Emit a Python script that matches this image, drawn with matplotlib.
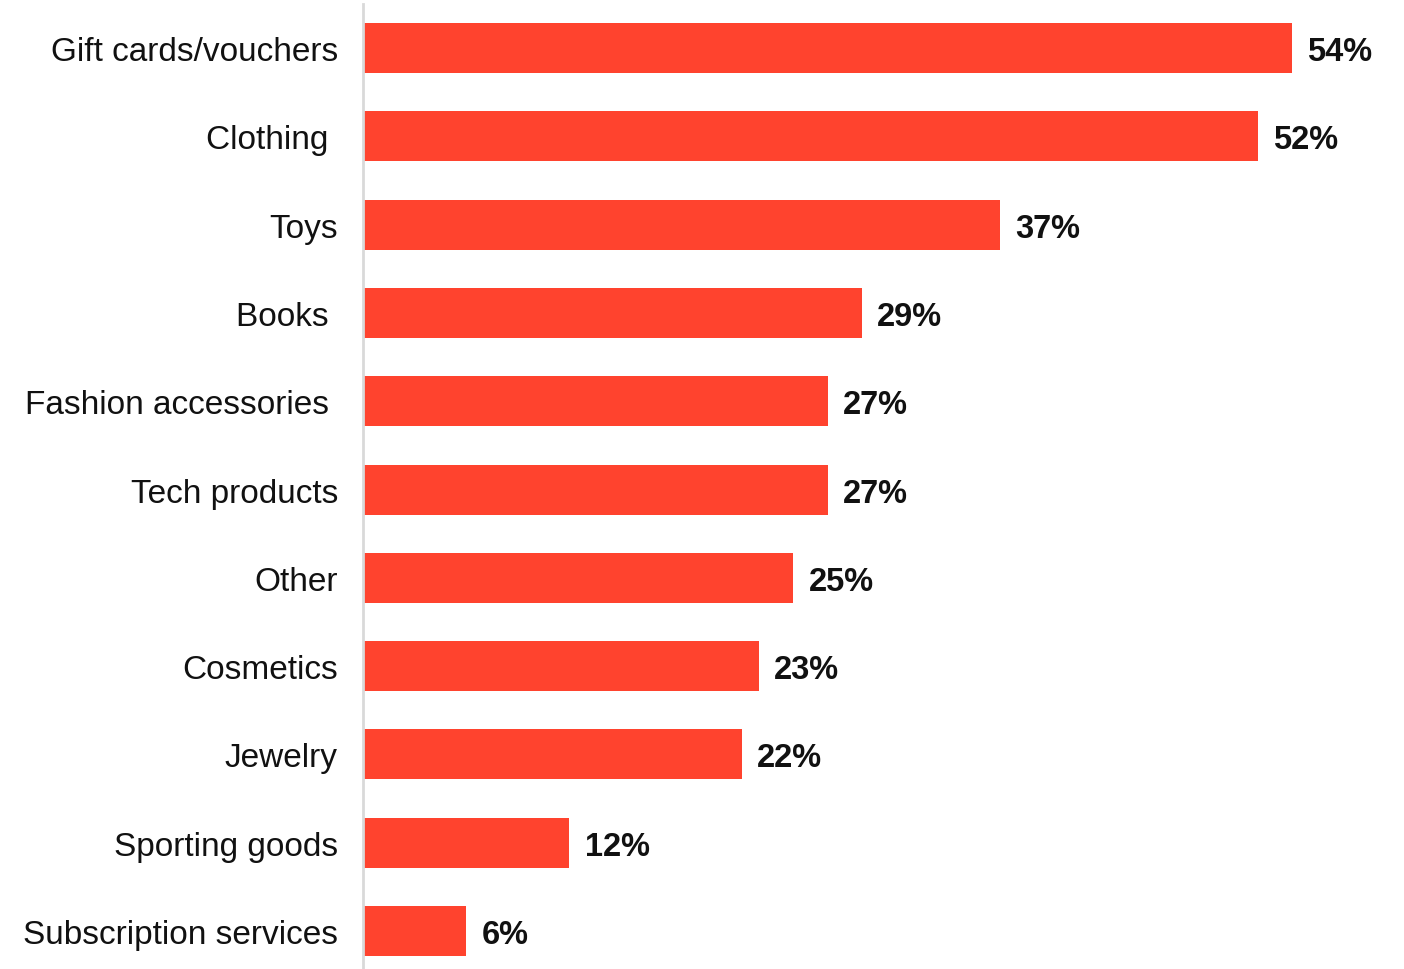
import matplotlib.pyplot as plt

categories = ["Gift cards/vouchers", "Clothing ", "Toys", "Books ", "Fashion accessories ",
              "Tech products", "Other", "Cosmetics", "Jewelry", "Sporting goods",
              "Subscription services"]
values = [54, 52, 37, 29, 27, 27, 25, 23, 22, 12, 6]

bar_color = "#FF432E"

fig = plt.figure(figsize=(14.04, 9.70), dpi=100)
ax = fig.add_axes([0.2585, 0.0, 0.7415, 0.9948])

pos = list(range(len(categories)))
bars = ax.barh(pos, values, height=0.566, color=bar_color, left=0)

ax.set_xlim(0, 60.5)
ax.set_ylim(10.43, -0.5)
ax.set_yticks(pos, labels=categories)
ax.tick_params(axis="y", length=0, pad=18, labelsize=24)
ax.set_xticks([])
for lbl in ax.get_yticklabels():
    lbl.set_fontfamily("Liberation Sans")
    lbl.set_color("#111111")

for side in ["top", "right", "bottom"]:
    ax.spines[side].set_visible(False)
ax.spines["left"].set_color("#d9d9d9")
ax.spines["left"].set_linewidth(2)

for b, v in zip(bars, values):
    ax.annotate(f"{v}%", (b.get_width(), b.get_y() + b.get_height() / 2),
                xytext=(11, -2.5), textcoords="offset points",
                va="center", ha="left", fontsize=23.5, fontweight="bold",
                family="Liberation Sans", color="#111111")

fig.savefig("out.png", dpi=100)
